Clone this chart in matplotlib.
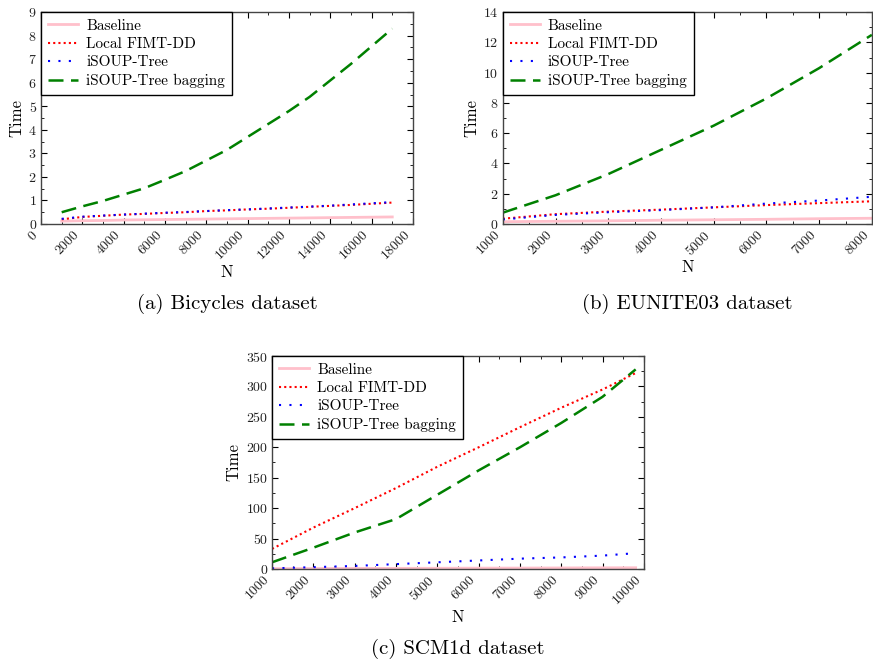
import matplotlib
matplotlib.use("Agg")
import matplotlib.pyplot as plt
from matplotlib.ticker import MultipleLocator

plt.rcParams['font.family'] = ['cmr10', 'DejaVu Serif']
plt.rcParams['mathtext.fontset'] = 'cm'
plt.rcParams['axes.formatter.use_mathtext'] = True

labels = ['Baseline', 'Local FIMT-DD', 'iSOUP-Tree', 'iSOUP-Tree bagging']

# (a) Bicycles
bic_n = [1000, 2000, 3000, 4000, 5000, 6000, 7000, 8000, 9000,
         10000, 11000, 12000, 13000, 14000, 15000, 16000, 17000]
bic_base = [0.12, 0.14, 0.15, 0.17, 0.18, 0.19, 0.20, 0.21, 0.22,
            0.23, 0.24, 0.25, 0.26, 0.27, 0.28, 0.29, 0.30]
bic_fimt = [0.20, 0.30, 0.35, 0.40, 0.43, 0.47, 0.50, 0.55, 0.58,
            0.62, 0.65, 0.69, 0.73, 0.77, 0.81, 0.86, 0.91]
bic_soup = [0.22, 0.31, 0.36, 0.40, 0.44, 0.48, 0.51, 0.55, 0.59,
            0.62, 0.66, 0.70, 0.74, 0.78, 0.83, 0.88, 0.93]
bic_bag = [0.50, 0.75, 0.98, 1.25, 1.52, 1.88, 2.25, 2.70, 3.15,
           3.70, 4.25, 4.80, 5.40, 6.10, 6.80, 7.55, 8.30]

# (b) EUNITE03
eun_n = [1000, 2000, 3000, 4000, 5000, 6000, 7000, 8000]
eun_base = [0.15, 0.18, 0.21, 0.25, 0.28, 0.31, 0.35, 0.38]
eun_fimt = [0.35, 0.65, 0.82, 0.95, 1.10, 1.25, 1.38, 1.50]
eun_soup = [0.30, 0.60, 0.78, 0.92, 1.10, 1.35, 1.55, 1.80]
eun_bag = [0.75, 1.90, 3.30, 4.90, 6.50, 8.30, 10.30, 12.50]

# (c) SCM1d
scm_n = [1000, 2000, 3000, 4000, 5000, 6000, 7000, 8000, 9000, 9800]
scm_base = [0.5, 0.7, 0.9, 1.0, 1.2, 1.4, 1.5, 1.7, 1.9, 2.0]
scm_fimt = [33, 68, 100, 133, 168, 200, 233, 265, 295, 322]
scm_soup = [1, 3, 5, 8, 11, 14, 17, 19, 22, 26]
scm_bag = [11, 35, 60, 82, 122, 162, 200, 240, 283, 328]


def draw(ax, n, base, fimt, soup, bag, xlim, ylim, xmaj, xmin, ymaj, ymin, caption):
    ax.plot(n, base, color='pink', lw=2, label=labels[0])
    ax.plot(n, fimt, color='red', lw=1.5, ls=(0, (1, 1.5)), label=labels[1])
    ax.plot(n, soup, color='blue', lw=1.5, ls=(0, (1, 4)), label=labels[2])
    ax.plot(n, bag, color='green', lw=1.8, ls=(0, (6, 3)), label=labels[3])
    ax.set_xlim(*xlim)
    ax.set_ylim(*ylim)
    ax.xaxis.set_major_locator(MultipleLocator(xmaj))
    ax.xaxis.set_minor_locator(MultipleLocator(xmin))
    ax.yaxis.set_major_locator(MultipleLocator(ymaj))
    ax.yaxis.set_minor_locator(MultipleLocator(ymin))
    ax.tick_params(which='both', direction='in', top=True, right=True,
                   labelsize=10, pad=3, labelcolor='#222222')
    ax.tick_params(which='major', length=4)
    ax.tick_params(which='minor', length=2)
    for lab in ax.get_xticklabels():
        lab.set_rotation(45)
        lab.set_ha('right')
    for s in ax.spines.values():
        s.set_color('#444444')
        s.set_linewidth(1)
    ax.set_xlabel('N', fontsize=12, labelpad=1)
    ax.set_ylabel('Time', fontsize=12, labelpad=3)
    leg = ax.legend(loc='upper left', borderaxespad=0, fancybox=False,
                    framealpha=1, edgecolor='black', fontsize=11,
                    handlelength=2.0, handletextpad=0.5, borderpad=0.45,
                    labelspacing=0.3)
    leg.get_frame().set_linewidth(1)
    ax.text(0.5, -0.375, caption, transform=ax.transAxes, ha='center',
            va='center', fontsize=15)


fig = plt.figure(figsize=(8.73, 6.6), dpi=100)
ax_a = fig.add_axes([0.047, 0.6606, 0.426, 0.321])
ax_b = fig.add_axes([0.576, 0.6606, 0.4227, 0.321])
ax_c = fig.add_axes([0.3116, 0.1379, 0.426, 0.3227])

draw(ax_a, bic_n, bic_base, bic_fimt, bic_soup, bic_bag, (0, 18000), (0, 9),
     2000, 1000, 1, 0.5, '(a) Bicycles dataset')
draw(ax_b, eun_n, eun_base, eun_fimt, eun_soup, eun_bag, (1000, 8000), (0, 14),
     1000, 500, 2, 1, '(b) EUNITE03 dataset')
draw(ax_c, scm_n, scm_base, scm_fimt, scm_soup, scm_bag, (1000, 10000), (0, 350),
     1000, 500, 50, 25, '(c) SCM1d dataset')

fig.savefig('out.png', dpi=100)
